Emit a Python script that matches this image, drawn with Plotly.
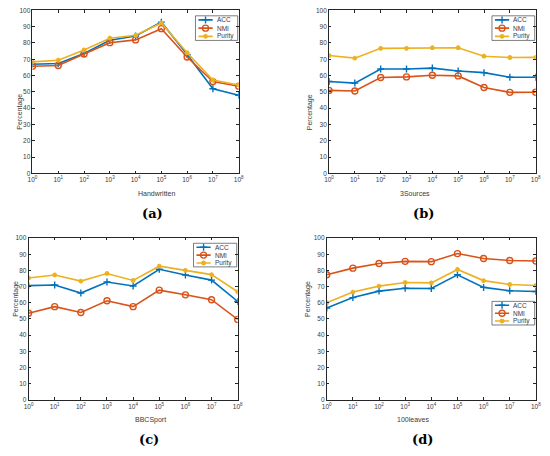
import plotly.graph_objects as go

# parameter values on the x axis (log scale)
lambdas = [1e0, 1e1, 1e2, 1e3, 1e4, 1e5, 1e6, 1e7, 1e8]
tick_text = ["10<sup>%d</sup>" % i for i in range(9)]
y_ticks = [0, 10, 20, 30, 40, 50, 60, 70, 80, 90, 100]

datasets = ["Handwritten", "3Sources", "BBCSport", "100leaves"]
panel_tags = ["(a)", "(b)", "(c)", "(d)"]
metrics = ["ACC", "NMI", "Purity"]

# Handwritten
hw_acc = [67.0, 67.4, 73.6, 81.7, 84.3, 92.8, 73.0, 51.9, 47.9]
hw_nmi = [65.7, 66.2, 73.2, 80.2, 81.9, 88.8, 71.4, 56.3, 53.5]
hw_pur = [68.4, 69.4, 75.7, 82.9, 84.7, 92.3, 74.0, 57.3, 54.2]

# 3Sources
ts_acc = [56.4, 55.4, 64.0, 64.0, 64.6, 62.8, 61.8, 59.0, 59.0]
ts_nmi = [50.9, 50.5, 58.8, 59.2, 60.2, 59.8, 52.7, 49.7, 49.8]
ts_pur = [72.3, 70.7, 76.7, 76.7, 77.1, 77.1, 71.9, 71.1, 71.2]

# BBCSport
bbc_acc = [70.6, 71.0, 66.0, 72.8, 70.4, 80.7, 77.2, 74.0, 60.8]
bbc_nmi = [53.5, 57.6, 54.0, 61.2, 57.6, 67.8, 64.9, 61.9, 49.7]
bbc_pur = [75.3, 77.2, 73.4, 78.1, 73.8, 82.6, 80.0, 77.4, 66.8]

# 100leaves
lv_acc = [56.8, 63.2, 67.2, 69.0, 68.8, 77.3, 69.5, 67.4, 67.0]
lv_nmi = [77.3, 81.4, 84.3, 85.6, 85.4, 90.4, 87.4, 86.1, 85.8]
lv_pur = [60.0, 66.6, 70.3, 72.5, 72.3, 80.6, 73.7, 71.3, 70.7]

acc_all = [hw_acc, ts_acc, bbc_acc, lv_acc]
nmi_all = [hw_nmi, ts_nmi, bbc_nmi, lv_nmi]
pur_all = [hw_pur, ts_pur, bbc_pur, lv_pur]

W, H = 550, 456
# plot boxes in pixels: left, right, top, bottom
boxes = [(28, 238, 6.5, 172), (330, 540.5, 6.5, 172),
         (24, 237, 237.7, 402), (327.7, 540.7, 237.7, 402)]
# legend boxes in pixels: left, right, top, bottom
leg_boxes = [(194, 237, 12, 37), (496, 539.5, 12, 37),
             (192, 236, 243, 267), (496, 539.5, 302, 326)]

colors = ["#0072BD", "#D95319", "#EDB120"]
symbols = [("cross-thin-open", 5), ("circle-open", 6), ("asterisk-open", 4)]
txt = "#3a3a3a"
font = "Liberation Sans, Arial, sans-serif"

fig = go.Figure()
layout = dict(width=W, height=H, margin=dict(l=0, r=0, t=0, b=0),
              paper_bgcolor="white", plot_bgcolor="rgba(0,0,0,0)", showlegend=False,
              font=dict(family=font, size=7, color=txt),
              annotations=[], shapes=[])

for i in range(4):
    l, r, t, b = boxes[i]
    sfx = "" if i == 0 else str(i + 1)
    xa, ya = "x" + sfx, "y" + sfx

    # legend frame first, below everything else
    ll, lr, lt, lb = leg_boxes[i]
    layout["shapes"].append(dict(type="rect", xref="paper", yref="paper",
                                 x0=ll / W, x1=lr / W, y0=1 - lb / H, y1=1 - lt / H,
                                 line=dict(color="#262626", width=0.6), fillcolor="white",
                                 layer="below"))

    series = [acc_all[i], nmi_all[i], pur_all[i]]
    for k in range(3):
        col = colors[k]
        sym, ms = symbols[k]
        fig.add_trace(go.Scatter(
            x=lambdas, y=series[k], name=metrics[k], mode="lines+markers",
            line=dict(color=col, width=1.6),
            marker=dict(symbol=sym, size=ms, color=col, line=dict(color=col, width=1.4)),
            xaxis=xa, yaxis=ya))

    axis_common = dict(showline=True, linecolor="#262626", linewidth=0.8, mirror="ticks",
                       ticks="inside", ticklen=2.5, tickcolor="#262626",
                       showgrid=False, zeroline=False,
                       tickfont=dict(size=6.5, color=txt))
    layout["xaxis" + sfx] = dict(axis_common, type="log", range=[0, 8],
                                 tickvals=lambdas, ticktext=tick_text,
                                 domain=[l / W, r / W], anchor=ya)
    layout["yaxis" + sfx] = dict(axis_common, range=[0, 100], tickvals=y_ticks,
                                 domain=[1 - b / H, 1 - t / H], anchor=xa)

    # compact legend drawn on its own small hidden axes
    lsfx = str(i + 5)
    lxa, lya = "x" + lsfx, "y" + lsfx
    hidden = dict(visible=False, fixedrange=True)
    layout["xaxis" + lsfx] = dict(hidden, range=[0, lr - ll], domain=[ll / W, lr / W], anchor=lya)
    layout["yaxis" + lsfx] = dict(hidden, range=[lb - lt, 0], domain=[1 - lb / H, 1 - lt / H], anchor=lxa)
    row_h = (lb - lt) / 3
    for k in range(3):
        col = colors[k]
        sym, ms = symbols[k]
        yc = row_h * (k + 0.5)
        fig.add_trace(go.Scatter(
            x=[3, 17.5], y=[yc, yc], mode="lines", line=dict(color=col, width=1.6),
            xaxis=lxa, yaxis=lya, hoverinfo="skip"))
        fig.add_trace(go.Scatter(
            x=[10.25], y=[yc], mode="markers",
            marker=dict(symbol=sym, size=ms, color=col, line=dict(color=col, width=1.4)),
            xaxis=lxa, yaxis=lya, hoverinfo="skip"))
        layout["annotations"].append(dict(
            text=metrics[k], x=19.5, y=yc, xref=lxa, yref=lya, xanchor="left",
            yanchor="middle", showarrow=False, font=dict(size=6.5, color=txt)))

    # axis titles and panel tag
    cx = (l + r) / 2
    layout["annotations"].append(dict(
        text=datasets[i], x=cx / W, y=1 - (b + 20) / H, xref="paper", yref="paper",
        yanchor="middle", showarrow=False, font=dict(size=7, color=txt)))
    layout["annotations"].append(dict(
        text="Percentage", x=(l - 19) / W, y=1 - (t + b) / 2 / H, xref="paper",
        yref="paper", showarrow=False, textangle=-90, font=dict(size=7, color=txt)))
    layout["annotations"].append(dict(
        text="<b>" + panel_tags[i] + "</b>", x=(cx + 4) / W, y=1 - (b + 40.5) / H,
        xref="paper", yref="paper", yanchor="middle", showarrow=False,
        font=dict(size=13, color="black", family="DejaVu Serif, Liberation Serif, serif")))

fig.update_layout(**layout)
fig.write_html("out.html", config={"displayModeBar": False},
               post_script="document.body.style.margin='0';")
